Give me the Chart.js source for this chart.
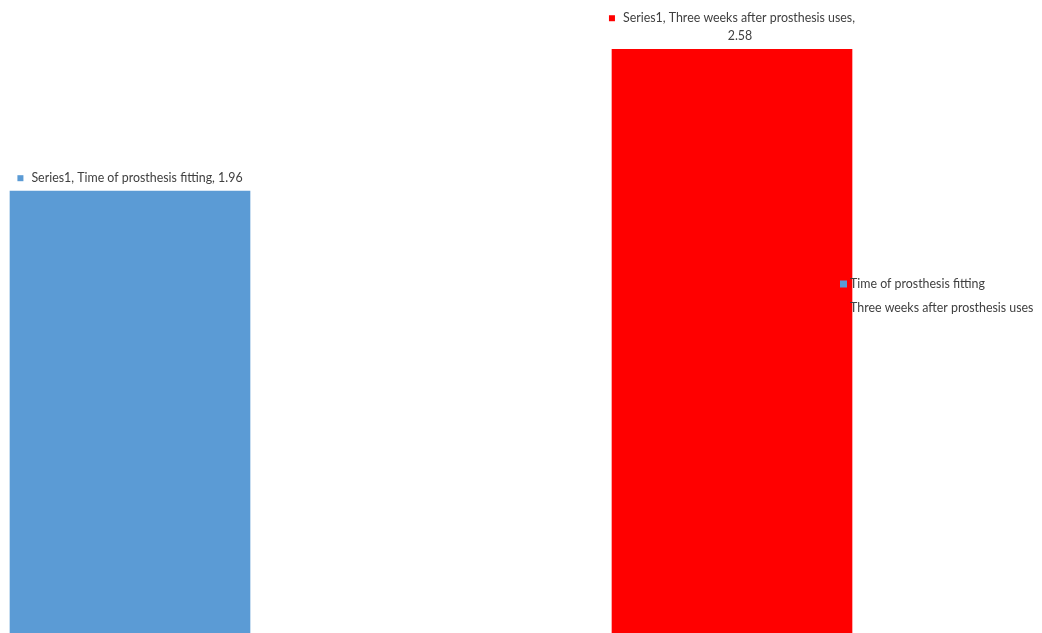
<!DOCTYPE html>
<html>
<head>
<meta charset="utf-8">
<title>Prosthesis</title>
<script src="https://cdn.jsdelivr.net/npm/chart.js@4/dist/chart.umd.min.js"></script>
<style>
  html, body { margin: 0; padding: 0; background: #fff; overflow: hidden; }
  #wrap { position: relative; width: 1042px; height: 640px; }
</style>
</head>
<body>
<div id="wrap"><canvas id="chartMain"></canvas></div>
<script>
// dados
const categories = ['Time of prosthesis fitting', 'Three weeks after prosthesis uses'];
const seriesName = 'Series1';
const seriesValues = [1.96, 2.58];
const barColors = ['#5b9bd5', '#ff0000'];

const textColor = '#404040';
const labelFont = '12.4px Lato, "Liberation Sans", sans-serif';

// RÓTULOS + LEGENDA (desenhados por cima das barras)
const labelsPlugin = {
  id: 'labelsPlugin',
  afterDatasetsDraw(chart) {
    const ctx = chart.ctx;
    const meta = chart.getDatasetMeta(0);
    ctx.save();
    ctx.font = labelFont;
    ctx.textBaseline = 'middle';

    meta.data.forEach((bar, i) => {
      const name = seriesName + ', ' + categories[i] + ',';
      const val = seriesValues[i].toFixed(2);
      const sq = 6, gap = 8;
      if (i === 0) {
        const txt = name + ' ' + val;
        const w = sq + gap + ctx.measureText(txt).width;
        const x0 = bar.x - w / 2;
        const y = bar.y - 13;
        ctx.fillStyle = barColors[i];
        ctx.fillRect(x0, y - 3, sq, sq);
        ctx.fillStyle = textColor;
        ctx.textAlign = 'left';
        ctx.fillText(txt, x0 + sq + gap, y);
      } else {
        const w = sq + gap + ctx.measureText(name).width;
        const x0 = bar.x - w / 2;
        const y2 = bar.y - 13;
        const y1 = y2 - 18;
        ctx.fillStyle = barColors[i];
        ctx.fillRect(x0, y1 - 3, sq, sq);
        ctx.fillStyle = textColor;
        ctx.textAlign = 'left';
        ctx.fillText(name, x0 + sq + gap, y1);
        ctx.textAlign = 'center';
        ctx.fillText(val, bar.x + 8, y2);
      }
    });

    // legenda
    ctx.textAlign = 'left';
    categories.forEach((c, i) => {
      const y = 284 + i * 24;
      ctx.fillStyle = barColors[i];
      ctx.fillRect(840, y - 3.5, 7, 7);
      ctx.fillStyle = textColor;
      ctx.fillText(c, 850, y);
    });
    ctx.restore();
  }
};

function initChart() {
  const el = document.getElementById('chartMain');
  new Chart(el, {
    type: 'bar',
    data: {
      labels: categories,
      datasets: [{
        label: seriesName,
        data: seriesValues,
        backgroundColor: barColors,
        borderWidth: 0,
        barThickness: 240,
        clip: false
      }]
    },
    options: {
      responsive: true,
      maintainAspectRatio: false,
      animation: false,
      layout: { padding: { left: 130, right: 310, top: 0, bottom: 0 } },
      plugins: {
        legend: { display: false },
        tooltip: { enabled: false }
      },
      scales: {
        x: { display: false, offset: false },
        y: { display: false, min: 0, max: 2.795 }
      }
    },
    plugins: [labelsPlugin]
  });
}

initChart();
</script>
</body>
</html>
